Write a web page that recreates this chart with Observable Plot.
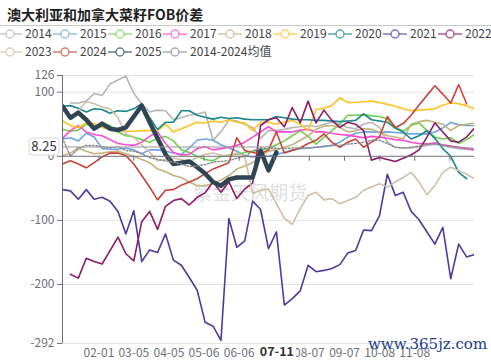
<!DOCTYPE html>
<html>
<head>
<meta charset="utf-8">
<script src="https://cdn.jsdelivr.net/npm/d3@7"></script>
<script src="https://cdn.jsdelivr.net/npm/@observablehq/plot@0.6"></script>
<style>
html,body{margin:0;padding:0;background:#fff;}
#wrap{position:relative;width:491px;height:360px;overflow:hidden;background:#fff;font-family:"Noto Sans CJK SC","Noto Sans",sans-serif;}
#head{position:relative;width:491px;height:60px;}
#title{position:absolute;left:7px;top:4px;font-size:14px;font-weight:bold;color:#1f1f1f;line-height:20px;white-space:nowrap;}
#hr{position:absolute;left:0;top:25px;width:491px;height:1px;background:#c8c8c8;}
#legend{position:absolute;left:0;top:25px;}
#chart{position:relative;width:491px;height:300px;}
#site{position:absolute;left:368px;top:335px;font-family:"DejaVu Serif",serif;font-size:15px;color:#1b3c8c;white-space:nowrap;}
</style>
</head>
<body>
<div id="wrap">
  <div id="head"><div id="title">澳大利亚和加拿大菜籽FOB价差</div><div id="hr"></div><svg id="legend" width="491" height="35"></svg></div>
  <div id="chart"></div>
  <div id="site">www.365jz.com</div>
</div>
<script>
// ---- data ----
const seriesNames = ["2014","2015","2016","2017","2018","2019","2020","2021","2022","2023","2024","2025","2014-2024均值"];
const seriesColors = ["#b5b5b5","#6ea6e0","#6dd24b","#ff48d2","#c4b27c","#ffc21f","#17888e","#4a3c9e","#8c1a6a","#cdbfa9","#c9433b","#2f4554","#8a8a8a"];

const s2014 = [null,83,83,86,98,95,113,119,125,98,82,69,72,71,57,60,64,66,69,25,38,57,55,50,45,28,40,40,42,45,46,48,46,50,53,50,45,43,50,53,45,22,14,13,13,15,17,19,17,14,12,11,10];
const s2015 = [27,29,24,36,30,12,11,11,13,10,4,10,10,8,5,3,13,25,27,25,18,13,8,1,-1,1,0,3,6,10,12,13,14,15,17,22,30,36,38,38,37,38,37,36,35,35,35,38,44,53,49,48,48];
const s2016 = [42,39,41,50,47,52,48,38,32,30,26,22,28,31,24,10,6,0,-5,-7,0,2,3,6,8,9,12,18,24,32,40,31,19,30,40,50,64,64,65,63,62,58,45,39,48,52,40,30,27,29,20,26,34];
const s2017 = [28,40,48,38,34,32,26,20,18,17,22,31,38,20,6,2,3,12,15,10,12,14,17,22,30,38,46,38,38,38,41,42,38,38,36,34,33,31,29,31,30,28,26,25,22,20,19,21,18,16,14,12,10];
const s2018 = [1,5,13,8,4,5,7,8,4,0,-5,-10,-20,-24,-30,-33,-40,-46,-46,-42,-37,-30,-20,-15,-10,0,8,10,14,18,25,32,42,47,48,45,38,40,43,42,38,32,30,27,50,54,56,53,50,40,48,50,52];
const s2019 = [55,48,45,52,51,45,42,40,39,39,40,40,40,50,38,43,48,53,52,55,53,57,53,52,40,53,53,50,53,56,50,40,73,75,79,91,84,84,85,86,84,81,78,74,71,72,73,74,80,83,82,79,74];
const s2020 = [78,79,75,69,74,73,67,71,70,74,82,60,42,53,53,71,71,64,61,58,61,59,60,58,57,57,57,62,60,58,57,57,56,56,55,54,55,56,66,57,55,53,44,38,27,32,40,28,12,0,-25,-35,null];
const s2021 = [-52,-54,-67,-52,-67,-64,-70,-86,-121,-85,-164,-146,-150,-121,-162,-170,-189,-209,-259,-265,-287,-97,-142,-132,-70,-83,-144,-118,-232,-222,-210,-170,-180,-178,-175,-169,-151,-147,-115,-116,-93,-28,-61,-56,-86,-99,-118,-137,-111,-191,-137,-157,-153];
const s2022 = [null,-184,-190,-159,-164,-168,-147,-126,-152,-163,-102,-86,-114,-78,-69,-66,-76,-64,-57,-40,-56,-40,-66,-51,-42,48,57,60,46,76,52,86,52,72,56,45,53,50,40,-6,-2,-5,-8,-3,2,10,30,52,38,24,22,30,44];
const s2023 = [null,59,71,85,82,77,74,60,35,30,18,6,-7,-5,-3,-5,-8,-2,3,5,2,0,5,0,-58,-53,-51,-74,-97,-106,-82,-61,-56,-68,-66,-74,-69,-64,-53,-48,-43,-48,-40,-33,-25,-40,-60,-45,-25,-17,-22,-28,-35];
const s2024 = [-12,-7,-12,-18,-10,-1,5,5,1,-12,-30,-48,-68,-53,-52,-45,-40,-35,-27,-20,-15,-10,29,9,6,4,10,38,5,9,13,20,25,35,22,14,22,27,14,22,30,62,45,51,64,80,95,110,97,83,112,82,null];
const s2025 = [78,60,68,57,43,51,43,41,45,62,79,53,28,3,-12,-10,-8,-17,-27,-40,-46,-36,-33,-33,-33,9,-22,6];
const sAvg  = [28,0,12,17,17,15,13,15,9,8,4,-2,-5,-7,-9,-12,-16,-15,-13,-9,-8,-7,-3,0,8,13,12,12,12,13,13,13,14,16,17,17,19,20,22,25,25,20,14,13,14,16,19,19,17,15,14,13,12];
const seriesValues = [s2014,s2015,s2016,s2017,s2018,s2019,s2020,s2021,s2022,s2023,s2024,s2025,sAvg];

const xTickPos = [4.6,9.0,13.43,17.86,22.3,26.73,31.16,35.6,40.03,44.46,48.9];
const xTickLabels = ["02-01","03-05","04-05","05-06","06-06","","08-07","09-07","10-08","11-08",""];
const yTicks = [126,100,0,-100,-200,-292];
const yGrid = [126,100,-100,-200,-292];
const pointerX = 27, pointerXLabel = "07-11";
const pointerY = 8.25;

// ---- build ----
const rows = [];
seriesValues.forEach((arr, k) => arr.forEach((v, i) => { if (v !== null && v !== undefined) rows.push({name: seriesNames[k], i, v}); }));
const ticks = xTickPos.map((x, k) => ({x, label: xTickLabels[k]}));

const lineMarks = seriesNames.map((name, k) => Plot.line(rows.filter(d => d.name === name), {
  x: "i", y: "v",
  stroke: seriesColors[k],
  strokeWidth: name === "2025" ? 4.5 : (k === 12 ? 1.5 : 1.6),
  strokeDasharray: k === 12 ? "1.5,2" : null,
  strokeLinejoin: "round",
  clip: true
}));

const plot = Plot.plot({
  width: 491, height: 300,
  marginTop: 15, marginRight: 17, marginBottom: 17, marginLeft: 62,
  x: {type: "linear", domain: [0, 52], axis: null},
  y: {type: "linear", domain: [-292, 126], ticks: yTicks, tickSize: 5, tickPadding: 3, label: null, tickFormat: d => String(d)},
  style: {fontFamily: '"Noto Sans CJK SC","Noto Sans",sans-serif', fontSize: "12px", color: "#6e7079", background: "white", overflow: "visible"},
  marks: [
    Plot.text(["紫金天风期货"], {x: 23.7, y: -58, text: d => d, fill: "#cfcfcf", fillOpacity: 0.7, fontSize: 19}),
    Plot.ruleY(yGrid, {stroke: "#e3e3e3", strokeWidth: 1}),
    ...lineMarks,
    Plot.ruleY([0], {stroke: "#6e7079", strokeWidth: 1}),
    Plot.ruleX(ticks, {x: "x", y1: 0, y2: -7.8, stroke: "#6e7079"}),
    Plot.ruleX([0], {y1: -292, y2: 126, stroke: "#6e7079"}),
    Plot.text(ticks, {x: "x", y: -292, dy: 10, text: "label", fill: "#6e7079", fontSize: 12}),
    Plot.ruleY([pointerY], {x1: 0, x2: pointerX, dy: -4, stroke: "#999", strokeWidth: 1})
  ]
});
document.getElementById("chart").appendChild(plot);

// axis pointer labels positioned with Plot scales
const sx = plot.scale("x"), sy = plot.scale("y");
const svg = d3.select(plot);
const yy = sy.apply(pointerY) - 4;
const gy = svg.append("g");
gy.append("rect").attr("x", 29).attr("y", yy - 8.5).attr("width", 30).attr("height", 17).attr("rx", 3)
  .attr("fill", "#fff").attr("stroke", "#d8d8d8");
gy.append("text").attr("x", 44).attr("y", yy).attr("dy", "0.35em").attr("text-anchor", "middle")
  .attr("fill", "#333").attr("font-size", 13).text(String(pointerY));
const xx = sx.apply(pointerX) + 1;
const gx = svg.append("g");
gx.append("rect").attr("x", xx - 19).attr("y", 284).attr("width", 38).attr("height", 16).attr("fill", "#fff");
gx.append("text").attr("x", xx).attr("y", 291.5).attr("dy", "0.35em").attr("text-anchor", "middle")
  .attr("fill", "#333").attr("font-weight", "bold").attr("font-size", 12.5).text(pointerXLabel);

// legend
const lg = d3.select("#legend");
const legendRows = [seriesNames.slice(0, 9), seriesNames.slice(9)];
legendRows.forEach((names, r) => {
  names.forEach((name, c) => {
    const k = seriesNames.indexOf(name);
    const cx = 10 + c * 55, cy = 9 + r * 18;
    const g = lg.append("g").attr("opacity", 0.7);
    g.append("line").attr("x1", cx - 12).attr("x2", cx + 12).attr("y1", cy).attr("y2", cy).attr("stroke", seriesColors[k]).attr("stroke-width", 1.5);
    g.append("circle").attr("cx", cx).attr("cy", cy).attr("r", 4).attr("fill", "#fff").attr("stroke", seriesColors[k]).attr("stroke-width", 1.5);
    lg.append("text").attr("x", cx + 15).attr("y", cy).attr("dy", "0.36em").attr("font-size", 12).attr("fill", "#444")
      .attr("font-family", '"Noto Sans CJK SC","Noto Sans",sans-serif').text(name);
  });
});
</script>
</body>
</html>
